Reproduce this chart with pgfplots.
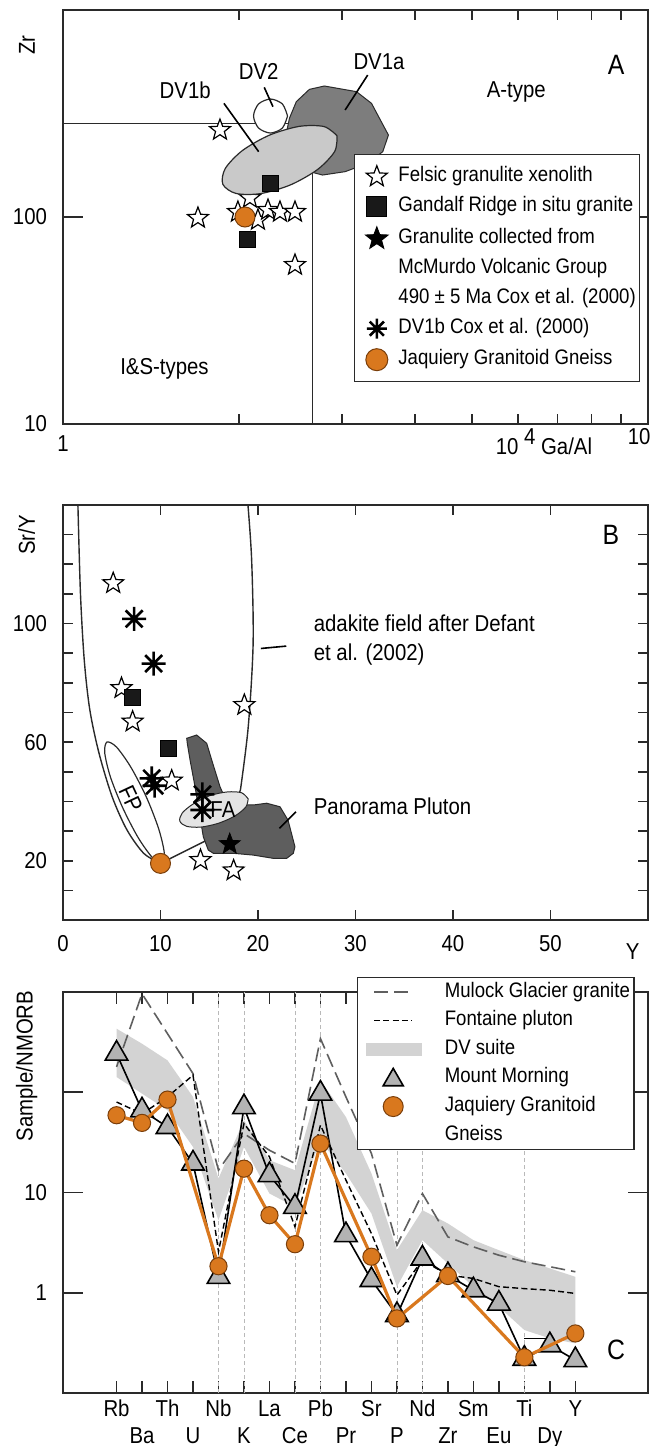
\documentclass[border=0pt]{standalone}
\usepackage{fontspec}
\setmainfont{Liberation Sans}[FakeStretch=0.886]
\usepackage{pgfplots}
\pgfplotsset{compat=1.18}
\usetikzlibrary{plotmarks}

\definecolor{edge}{HTML}{2A2A2A}
\definecolor{jgorange}{HTML}{D9781E}
\definecolor{jgedge}{HTML}{7A3E0A}
\definecolor{dvoneb}{HTML}{C9C9C9}
\definecolor{dvonea}{HTML}{7D7D7D}
\definecolor{pano}{HTML}{5E5E5E}
\definecolor{fa}{HTML}{E4E4E4}
\definecolor{mmgray}{HTML}{B3B3B3}
\definecolor{band}{HTML}{D3D3D3}
\definecolor{mulock}{HTML}{5F5F5F}

\newcommand{\lgfont}{\fontsize{10.5}{12.6}\selectfont}
\newcommand{\panelfont}{\fontsize{14}{16}\selectfont}

% five-pointed star outline
\pgfdeclareplotmark{fivestar}{%
  \pgfpathmoveto{\pgfpointpolar{90}{\pgfplotmarksize}}%
  \pgfpathlineto{\pgfpointpolar{126}{0.42\pgfplotmarksize}}%
  \pgfpathlineto{\pgfpointpolar{162}{\pgfplotmarksize}}%
  \pgfpathlineto{\pgfpointpolar{198}{0.42\pgfplotmarksize}}%
  \pgfpathlineto{\pgfpointpolar{234}{\pgfplotmarksize}}%
  \pgfpathlineto{\pgfpointpolar{270}{0.42\pgfplotmarksize}}%
  \pgfpathlineto{\pgfpointpolar{306}{\pgfplotmarksize}}%
  \pgfpathlineto{\pgfpointpolar{342}{0.42\pgfplotmarksize}}%
  \pgfpathlineto{\pgfpointpolar{18}{\pgfplotmarksize}}%
  \pgfpathlineto{\pgfpointpolar{54}{0.42\pgfplotmarksize}}%
  \pgfpathclose
  \pgfusepathqfillstroke}
% eight-armed asterisk
\pgfdeclareplotmark{ast8}{%
  \pgfpathmoveto{\pgfqpoint{-\pgfplotmarksize}{0pt}}\pgfpathlineto{\pgfqpoint{\pgfplotmarksize}{0pt}}%
  \pgfpathmoveto{\pgfqpoint{0pt}{-\pgfplotmarksize}}\pgfpathlineto{\pgfqpoint{0pt}{\pgfplotmarksize}}%
  \pgfpathmoveto{\pgfpointpolar{45}{\pgfplotmarksize}}\pgfpathlineto{\pgfpointpolar{225}{\pgfplotmarksize}}%
  \pgfpathmoveto{\pgfpointpolar{135}{\pgfplotmarksize}}\pgfpathlineto{\pgfpointpolar{315}{\pgfplotmarksize}}%
  \pgfusepathqstroke}

\pgfplotsset{
  every axis/.append style={
    scale only axis,
    axis line style={edge, line width=0.9pt},
    tick style={edge, line width=0.8pt},
    tick align=inside,
    clip mode=individual,
    xminorticks=false, yminorticks=false,
    /pgf/number format/assume math mode=true,
    legend cell align=left,
    tick label style={font=\fontsize{11.5}{13.8}\selectfont},
  },
  wstar/.style={only marks, mark=fivestar, mark size=5.5pt, mark options={fill=white, draw=black, line width=0.6pt}},
  bsquare/.style={only marks, mark=square*, mark size=4pt, mark options={fill=black!90, draw=black}},
  bstar/.style={only marks, mark=fivestar, mark size=5.5pt, mark options={fill=black, draw=black, line width=0.4pt}},
  asterisk8/.style={only marks, mark=ast8, mark size=6pt, mark options={draw=black, line width=1.3pt}},
  jgdot/.style={only marks, mark=*, mark size=5pt, mark options={fill=jgorange, draw=jgedge, line width=0.5pt}},
}

\begin{document}
\fontsize{11.5}{13.8}\selectfont
\begin{tikzpicture}
\path[use as bounding box] (0pt,0pt) rectangle (326.5pt,-723pt);

% ---------------- A
\begin{axis}[
  at={(31.5pt,-5pt)}, anchor=north west, width=292.5pt, height=207pt,
  xmode=log, ymode=log, xmin=1, xmax=10, ymin=10, ymax=1000,
  xtick={1,2,3,4,5,6,7,8,9,10}, xticklabels={1,,,,,,,,,},
  xtick style={/pgfplots/major tick length=5pt},
  ytick={10,100}, yticklabels={10,100},
  ytick style={/pgfplots/major tick length=10pt},
  xticklabel style={yshift=-1.6pt},
  yticklabel style={xshift=-4pt},
  legend style={at={(rel axis cs:0.4968,0.652)}, anchor=north west, draw=edge, line width=0.6pt,
    fill=white, inner xsep=0pt, inner ysep=5.5pt, row sep=5pt, column sep=0pt,
    nodes={inner xsep=2pt, inner ysep=0pt, text height=7.5pt, text depth=2.5pt, font=\lgfont}},
]
\addlegendimage{legend image code/.code={\path (0pt,0pt) (19.5pt,0pt);
  \draw[black, fill=white, line width=0.6pt] plot[only marks, mark=fivestar, mark size=5.5pt] coordinates {(11pt,0pt)};}}
\addlegendentry{Felsic granulite xenolith}
\addlegendimage{legend image code/.code={\path (0pt,0pt) (19.5pt,0pt);
  \draw[black, fill=black!90] plot[only marks, mark=square*, mark size=5pt] coordinates {(11pt,0pt)};}}
\addlegendentry{Gandalf Ridge in situ granite}
\addlegendimage{legend image code/.code={\path (0pt,0pt) (19.5pt,0pt);
  \draw[black, fill=black, line width=0.4pt] plot[only marks, mark=fivestar, mark size=6pt] coordinates {(11pt,0pt)};}}
\addlegendentry{Granulite collected from}
\addlegendimage{empty legend}
\addlegendentry{McMurdo Volcanic Group}
\addlegendimage{empty legend}
\addlegendentry{490 ± 5 Ma Cox et al. (2000)}
\addlegendimage{legend image code/.code={\path (0pt,0pt) (19.5pt,0pt);
  \draw[black, line width=1.3pt] plot[only marks, mark=ast8, mark size=5pt] coordinates {(11pt,0pt)};}}
\addlegendentry{DV1b Cox et al. (2000)}
\addlegendimage{legend image code/.code={\path (0pt,0pt) (19.5pt,0pt);
  \draw[jgedge, fill=jgorange, line width=0.5pt] plot[only marks, mark=*, mark size=5.5pt] coordinates {(11pt,0pt)};}}
\addlegendentry{Jaquiery Granitoid Gneiss}

% field boundaries
\addplot[edge, line width=0.7pt] coordinates {(1,283) (2.67,283) (2.67,10)};
% felsic granulite xenoliths
\addplot[wstar] coordinates {(1.855,263) (1.701,98.9) (1.991,105.7) (2.087,123.5) (2.154,96.7)
  (2.241,108) (2.349,105.7) (2.492,105.7) (2.492,58.6)};
% DV1a
\addplot[fill=dvonea, draw=edge, line width=0.5pt] coordinates {(2.438,299.7) (2.505,360.7) (2.638,413.7)
  (2.798,429.4) (3.174,403.3) (3.368,354.1) (3.600,248.9) (3.521,206.9) (3.318,181.7) (3.036,165.6)
  (2.778,159.5) (2.55,170) (2.396,235.5)} -- cycle;
% DV2
\addplot[fill=white, draw=edge, line width=0.6pt, smooth] coordinates {(2.420,307.5) (2.372,351.5)
  (2.263,371.5) (2.159,351.5) (2.117,307.5) (2.159,269.1) (2.263,254.5) (2.372,269.1) (2.420,307.5)};
% DV1b
\addplot[fill=dvoneb, draw=edge, line width=0.6pt, smooth] coordinates {(2.941,246.9) (2.914,207.4)
  (2.725,169.8) (2.449,143.0) (2.176,129.7) (1.975,130.0) (1.876,144.0) (1.894,171.4) (2.026,209.4)
  (2.254,248.6) (2.536,274.1) (2.795,273.4) (2.941,246.9)};
% leader lines
\addplot[black, line width=0.8pt] coordinates {(3.318,485) (3.036,328.8)};
\addplot[black, line width=0.8pt] coordinates {(2.208,423) (2.285,341.2)};
\addplot[black, line width=0.8pt] coordinates {(1.884,354.1) (2.160,206.9)};
% Gandalf Ridge, Jaquiery
\addplot[bsquare] coordinates {(2.259,146) (2.063,78.3)};
\addplot[jgdot] coordinates {(2.047,100)};

\node at (axis cs:3.469,563) {DV1a};
\node at (axis cs:2.16,503.6) {DV2};
\node at (axis cs:1.618,407.7) {DV1b};
\node at (axis cs:5.955,403) {A-type};
\node at (axis cs:1.491,18.4) {I\&S-types};
\node[font=\panelfont] at (axis cs:8.82,542) {A};
\node[rotate=90] at (rel axis cs:-0.0615,0.9155) {Zr};
\node[anchor=base west] at (rel axis cs:0.726,0) [yshift=-15.3pt] {10 \raisebox{5pt}{4} Ga/Al};
\node[anchor=base] at (rel axis cs:0.985,0) [yshift=-10.3pt] {10};
\end{axis}

% ---------------- B
\begin{axis}[
  at={(31.5pt,-252.5pt)}, anchor=north west, width=292.5pt, height=207.5pt,
  xmin=0, xmax=60, ymin=0, ymax=140,
  xtick={0,10,20,30,40,50}, xticklabels={0,10,20,30,40,50},
  xtick style={/pgfplots/major tick length=5pt},
  extra x ticks={50}, extra x tick labels={},
  extra x tick style={grid=none, /pgfplots/major tick length=10pt},
  ytick={10,20,30,40,50,60,70,80,90,100,110,120,130},
  yticklabels={,20,,,,60,,,,100,,,},
  ytick style={/pgfplots/major tick length=5pt},
  extra y ticks={50,100}, extra y tick labels={},
  extra y tick style={grid=none, /pgfplots/major tick length=10pt},
  xticklabel style={yshift=-3.6pt},
  yticklabel style={xshift=-4pt},
]
% adakite field
\addplot[edge, line width=0.7pt, smooth] coordinates {(1.53,140) (1.79,110.2) (2.18,87.7) (2.75,70.9)
  (3.70,56.2) (5.04,41.6) (6.56,30.4) (8.28,22.5) (10.0,19.1)};
\addplot[edge, line width=0.7pt] coordinates {(10.0,19.1) (14.5,26.5) (17.5,38) (18.2,43.9)};
\addplot[edge, line width=0.7pt, smooth] coordinates {(18.2,43.9) (19.0,65.2) (19.5,93.3) (19.35,121.4) (18.97,140)};
% FP
\addplot[fill=white, draw=edge, line width=0.6pt, smooth] coordinates {(10.15,19.23) (10.38,22.87)
  (9.79,31.0) (8.55,41.47) (6.97,51.5) (5.50,58.3) (4.51,60.05) (4.28,56.4) (4.87,48.2) (6.12,37.9)
  (7.69,27.9) (9.17,21.05) (10.15,19.23)};
% Panorama Pluton
\addplot[fill=pano, draw=edge, line width=0.5pt] coordinates {(12.69,61.3) (13.71,62.4) (14.74,59.6)
  (15.25,54.0) (16.10,45.0) (16.92,38.8) (19.52,38.8) (20.89,39.4) (22.26,38.2) (23.08,33.7)
  (23.79,24.7) (23.62,22.5) (22.94,20.8) (21.57,20.8) (19.52,21.9) (17.47,22.5) (15.42,22.5)
  (14.90,23.6) (14.39,28.1) (14.05,34.9) (13.54,45.0) (13.03,54.0) (12.75,59.6)} -- cycle;
% FA
\addplot[fill=fa, draw=edge, line width=0.5pt, smooth] coordinates {(18.99,40.87) (18.75,38.12)
  (17.63,35.09) (15.93,32.62) (14.11,31.34) (12.67,31.61) (11.98,33.36) (12.23,36.10) (13.35,39.14)
  (15.04,41.94) (16.86,43.21) (18.31,42.94) (18.99,40.87)};
% leaders
\addplot[black, line width=0.8pt] coordinates {(20.3,91.6) (22.9,92.4)};
\addplot[black, line width=0.8pt] coordinates {(22.2,30.9) (23.9,36.5)};
% samples
\addplot[wstar] coordinates {(5.15,113.6) (6.0,78.2) (7.14,66.9) (11.15,47.0) (18.6,72.5) (14.1,20.2) (17.5,16.7)};
\addplot[bsquare] coordinates {(7.14,75.1) (10.84,57.9)};
\addplot[asterisk8] coordinates {(7.3,101.6) (9.3,86.5) (9.1,47.8) (9.4,45.3) (14.3,42.4) (14.3,37.1)};
\addplot[bstar] coordinates {(17.1,25.6)};
\addplot[jgdot] coordinates {(10.0,19.1)};

\node[anchor=west] at (axis cs:24.9,100.1) {adakite field after Defant};
\node[anchor=west] at (axis cs:24.9,89.4) {et al. (2002)};
\node[anchor=west] at (axis cs:24.9,38.2) {Panorama Pluton};
\node[rotate=-65, inner sep=0pt] at (axis cs:6.95,41) {FP};
\node[inner sep=0pt] at (axis cs:16.4,37.1) {FA};
\node[font=\panelfont] at (axis cs:56.2,129.9) {B};
\node[rotate=90] at (rel axis cs:-0.062,0.928) {Sr/Y};
\node at (rel axis cs:0.974,-0.077) {Y};
\end{axis}

% ---------------- C
\begin{axis}[
  at={(31.5pt,-496pt)}, anchor=north west, width=292.5pt, height=200.5pt,
  xmin=-2.1, xmax=20.85, ymode=log, ymin=0.1, ymax=1000,
  xtick={0,2,...,18}, xticklabels={Rb,Th,Nb,La,Pb,Sr,Nd,Sm,Ti,Y},
  xtick style={/pgfplots/major tick length=6pt},
  extra x ticks={1,3,...,17}, extra x tick labels={Ba,U,K,Ce,Pr,P,Zr,Eu,Dy},
  extra x tick style={grid=none, /pgfplots/major tick length=6pt, xticklabel style={yshift=-13.5pt}},
  xticklabel style={text height=8.2pt, yshift=0.4pt},
  ytick={1,10,100}, yticklabels={1,10,},
  ytick style={/pgfplots/major tick length=10pt},
  yticklabel style={xshift=-4pt},
  legend style={at={(rel axis cs:0.5026,1.037)}, anchor=north west, draw=edge, line width=0.6pt,
    fill=white, inner xsep=0pt, inner ysep=2.2pt, row sep=4.3pt, column sep=0pt,
    nodes={inner xsep=2pt, inner ysep=0pt, text height=7.5pt, text depth=2.5pt, font=\lgfont}},
]
\addlegendimage{legend image code/.code={\path (0pt,0pt) (41pt,0pt);
  \draw[mulock, line width=0.8pt, dash pattern=on 7pt off 3pt] (8pt,0pt) -- (27pt,0pt);}}
\addlegendentry{Mulock Glacier granite}
\addlegendimage{legend image code/.code={\path (0pt,0pt) (41pt,0pt);
  \draw[black, line width=0.7pt, dash pattern=on 3pt off 1.6pt] (8pt,0pt) -- (27pt,0pt);}}
\addlegendentry{Fontaine pluton}
\addlegendimage{legend image code/.code={\path (0pt,0pt) (41pt,0pt);
  \fill[band] (4pt,-3pt) rectangle (31.5pt,3pt);}}
\addlegendentry{DV suite}
\addlegendimage{legend image code/.code={\path (0pt,0pt) (41pt,0pt);
  \draw[black, fill=mmgray, line width=0.8pt] plot[only marks, mark=triangle*, mark size=5.8pt] coordinates {(17.5pt,-1pt)};}}
\addlegendentry{Mount Morning}
\addlegendimage{legend image code/.code={\path (0pt,0pt) (41pt,0pt);
  \draw[jgedge, fill=jgorange, line width=0.5pt] plot[only marks, mark=*, mark size=5pt] coordinates {(17.5pt,0pt)};}}
\addlegendentry{Jaquiery Granitoid}
\addlegendimage{empty legend}
\addlegendentry{Gneiss}

% element guide lines
\addplot[gray!55, line width=0.4pt, dash pattern=on 2pt off 1.5pt] coordinates {(4,0.1) (4,1000)};
\addplot[gray!55, line width=0.4pt, dash pattern=on 2pt off 1.5pt] coordinates {(5,0.1) (5,1000)};
\addplot[gray!55, line width=0.4pt, dash pattern=on 2pt off 1.5pt] coordinates {(7,0.1) (7,1000)};
\addplot[gray!55, line width=0.4pt, dash pattern=on 2pt off 1.5pt] coordinates {(8,0.1) (8,1000)};
\addplot[gray!55, line width=0.4pt, dash pattern=on 2pt off 1.5pt] coordinates {(11,0.1) (11,1000)};
\addplot[gray!55, line width=0.4pt, dash pattern=on 2pt off 1.5pt] coordinates {(12,0.1) (12,1000)};
\addplot[gray!55, line width=0.4pt, dash pattern=on 2pt off 1.5pt] coordinates {(16,0.1) (16,1000)};
% DV suite field
\addplot[fill=band, draw=none] coordinates {(0,431) (1,305) (2,208) (3,89.9) (4,13.8) (5,52.6)
  (6,21.0) (7,16.7) (8,132) (9,56.6) (10,15.5) (11,2.66) (12,6.67) (13,4.91) (14,3.35) (15,2.66)
  (16,2.12) (17,1.75) (18,1.443) (18,0.313) (17,0.351) (16,0.425) (15,0.725) (14,1.148) (13,1.96)
  (12,3.35) (11,1.148) (10,6.18) (9,15.5) (8,33) (7,7.2) (6,9.77) (5,28.5) (4,5.30) (3,28.5)
  (2,66.2) (1,97) (0,142)} -- cycle;
% Mulock Glacier granite
\addplot[mulock, line width=0.8pt, dash pattern=on 7pt off 3pt] coordinates {(0,179) (1,960) (2,384)
  (3,153.5) (4,16.7) (5,38.7) (6,26.4) (7,19.5) (8,343) (9,89.8) (10,24.5) (11,2.98) (12,9.77)
  (13,3.61) (14,2.87) (15,2.37) (16,2.04) (17,1.82) (18,1.62)};
% Fontaine pluton
\addplot[black, line width=0.7pt, dash pattern=on 3pt off 1.6pt] coordinates {(0,80) (1,61) (2,90)
  (3,148) (4,2.56) (5,48.7) (6,22.7) (7,4.55) (8,46.9) (9,13.3) (10,3.9) (11,0.948) (12,2.12)
  (13,1.5) (14,1.39) (15,1.15) (16,1.10) (17,1.06) (18,0.985)};
% Mount Morning
\addplot[black, line width=0.8pt] coordinates {(16,0.35) (17,0.35)};
\addplot[black, line width=0.8pt, mark=triangle*, mark size=6.5pt,
  mark options={fill=mmgray, draw=black, line width=0.8pt}] coordinates {(0,243) (1,66) (2,45)
  (3,19.5) (4,1.44) (5,71) (6,14.9) (7,7.2) (8,97) (9,3.76) (10,1.34) (11,0.60) (12,2.2) (13,1.5)
  (14,1.06) (15,0.78) (16,0.22) (17,0.30) (18,0.213)};
% Jaquiery Granitoid Gneiss
\addplot[jgorange, line width=1.6pt, mark=*, mark size=4.3pt,
  mark options={fill=jgorange, draw=jgedge, line width=0.5pt}] coordinates {(0,59) (1,49.5) (2,84.5)
  (4,1.84) (5,17.3) (6,5.94) (7,3.05) (8,30.8) (10,2.29) (11,0.555) (13,1.47) (16,0.227) (18,0.393)};

\node[font=\panelfont] at (axis cs:19.6,0.268) {C};
\node[rotate=90] at (rel axis cs:-0.062,0.8155) {Sample/NMORB};
\end{axis}
\end{tikzpicture}
\end{document}
